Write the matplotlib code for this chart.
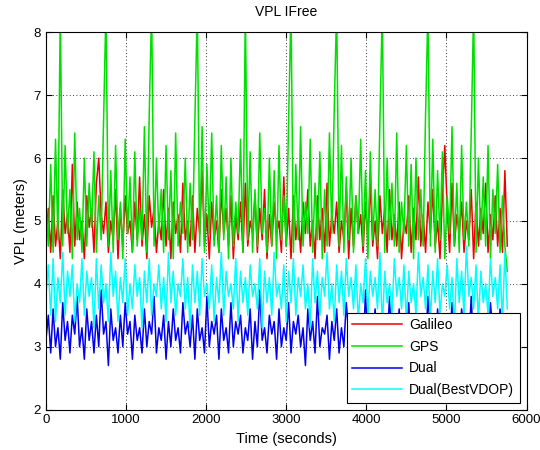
import numpy as np
import matplotlib
matplotlib.use('Agg')
import matplotlib.pyplot as plt

plt.rcParams['font.family'] = ['Liberation Sans', 'DejaVu Sans']

dt = 30  # seconds between samples

galileo = [
    4.7, 5.2, 4.5, 5.4, 4.6, 5.0, 4.4, 5.5, 4.8, 5.1, 4.5, 5.9, 4.6, 5.3, 4.7, 5.0,
    4.4, 5.4, 4.9, 5.2, 4.5, 5.6, 6.0, 5.1, 4.8, 5.3, 4.5, 5.0, 4.7, 5.5, 4.4, 5.2,
    4.6, 5.4, 4.8, 5.0, 4.5, 5.3, 4.7, 5.7, 4.6, 5.1, 4.4, 5.4, 4.9, 5.2, 4.5, 5.0,
    4.7, 5.5, 4.6, 5.2, 4.4, 5.3, 4.8, 5.1, 4.5, 5.6, 4.7, 5.0, 4.6, 5.4, 4.5, 5.2,
    4.8, 5.8, 4.6, 5.1, 4.4, 5.3, 4.7, 5.0, 4.5, 5.5, 4.8, 5.2, 4.6, 5.4, 4.4, 5.1,
    4.7, 5.3, 4.5, 5.6, 4.6, 5.0, 4.8, 5.4, 4.5, 5.2, 4.7, 5.5, 4.4, 5.1, 4.6, 5.3,
    4.8, 5.0, 4.5, 5.7, 4.6, 5.2, 4.4, 5.4, 4.7, 5.1, 4.5, 5.3, 4.8, 5.5, 4.6, 5.0,
    4.4, 5.4, 4.7, 5.2, 4.5, 5.6, 4.6, 5.1, 4.8, 5.3, 4.5, 5.0, 4.7, 5.5, 4.4, 5.2,
    4.6, 5.4, 4.8, 5.1, 4.5, 5.3, 4.7, 5.6, 4.6, 5.0, 4.4, 5.4, 4.8, 5.2, 4.5, 5.5,
    4.7, 5.1, 4.6, 5.3, 4.4, 5.0, 4.8, 5.4, 4.5, 5.2, 4.7, 5.7, 4.6, 5.1, 4.5, 5.3,
    4.8, 5.5, 4.6, 5.0, 4.4, 5.4, 6.2, 5.2, 4.5, 5.6, 4.6, 5.1, 4.8, 5.3, 4.5, 5.0,
    4.7, 5.5, 4.4, 5.3, 4.6, 5.2, 4.8, 5.6, 4.5, 5.1, 4.7, 5.4, 4.6, 5.2, 4.5, 5.8, 4.6,
]

gps = [
    5.3, 4.6, 5.9, 4.5, 6.3, 4.7, 8.4, 4.6, 6.2, 4.8, 5.5, 4.4, 6.4, 4.7, 5.2, 4.5,
    6.0, 4.6, 5.6, 4.9, 6.1, 4.5, 5.4, 4.7, 6.6, 8.4, 4.6, 5.8, 4.5, 6.2, 4.7, 5.3,
    4.4, 6.3, 4.8, 5.7, 4.5, 6.1, 4.6, 5.2, 4.7, 6.5, 4.5, 6.7, 8.4, 4.6, 6.0, 4.8,
    5.5, 4.5, 6.2, 4.7, 5.8, 4.4, 6.4, 4.6, 5.3, 4.8, 6.0, 4.5, 5.6, 4.7, 6.6, 8.4,
    4.6, 6.5, 4.5, 5.9, 4.8, 6.4, 4.6, 5.4, 4.5, 6.2, 4.7, 5.7, 4.4, 6.0, 4.6, 5.3,
    4.8, 6.3, 4.5, 8.4, 4.7, 6.1, 4.5, 5.5, 4.6, 6.4, 4.8, 5.2, 4.5, 6.0, 4.6, 5.8,
    4.4, 6.2, 4.7, 5.4, 4.6, 6.6, 8.4, 4.5, 5.9, 4.7, 6.5, 4.6, 5.3, 4.8, 6.3, 4.5,
    5.6, 4.7, 6.1, 4.4, 5.5, 4.6, 6.4, 4.8, 6.8, 8.4, 4.6, 6.2, 4.5, 5.7, 4.7, 6.0,
    4.5, 5.4, 4.8, 6.3, 4.6, 5.8, 4.4, 6.1, 4.7, 5.5, 4.6, 6.6, 8.4, 4.5, 6.0, 4.7,
    5.6, 4.6, 6.4, 4.5, 5.3, 4.8, 6.2, 4.6, 5.9, 4.4, 6.0, 4.7, 5.5, 4.6, 6.7, 8.4,
    4.6, 6.3, 4.5, 5.8, 4.7, 6.1, 4.4, 5.4, 4.8, 6.5, 4.6, 5.6, 4.5, 6.2, 4.7, 5.3,
    4.6, 6.4, 8.4, 4.5, 6.0, 4.7, 5.7, 4.6, 6.2, 4.4, 5.5, 4.8, 5.9, 4.5, 5.4, 4.6, 4.2,
]

dual = [
    3.1, 3.5, 2.9, 3.6, 3.0, 3.3, 2.8, 3.7, 3.1, 3.4, 2.9, 3.5, 3.2, 3.8, 3.0, 3.3,
    2.8, 3.6, 3.1, 3.4, 2.9, 3.5, 3.0, 3.9, 3.2, 3.4, 2.7, 3.6, 3.1, 3.3, 2.9, 3.5,
    3.0, 3.7, 3.2, 3.4, 2.8, 3.5, 3.1, 3.3, 2.9, 3.6, 3.0, 3.4, 3.2, 3.8, 2.9, 3.3,
    3.1, 3.5, 2.8, 3.4, 3.0, 3.6, 3.1, 3.3, 2.9, 3.7, 3.2, 3.4, 3.0, 3.5, 2.8, 3.6,
    3.1, 3.3, 2.9, 3.8, 3.0, 3.4, 3.2, 3.5, 2.8, 3.6, 3.1, 3.3, 2.9, 3.7, 3.0, 3.4,
    3.2, 3.5, 2.9, 3.3, 3.1, 3.6, 2.8, 3.4, 3.0, 3.9, 3.1, 3.3, 2.9, 3.5, 3.2, 3.4,
    2.8, 3.6, 3.0, 3.3, 3.1, 3.7, 2.9, 3.4, 3.2, 3.5, 3.0, 3.3, 2.7, 3.6, 3.1, 3.4,
    2.9, 3.8, 3.0, 3.3, 3.2, 3.5, 2.8, 3.4, 3.1, 3.6, 2.9, 3.3, 3.0, 3.7, 3.2, 3.4,
    2.9, 3.5, 3.1, 3.3, 2.8, 3.9, 3.0, 3.4, 3.2, 3.6, 2.9, 3.3, 3.1, 3.5, 3.0, 3.8,
    3.1, 3.4, 2.9, 3.6, 3.0, 3.3, 3.2, 3.7, 2.8, 3.4, 3.1, 3.5, 2.9, 3.3, 3.0, 3.8,
    3.2, 3.4, 2.9, 3.6, 3.1, 3.3, 2.8, 3.5, 3.0, 3.7, 3.1, 3.4, 2.9, 3.6, 3.2, 3.3,
    3.0, 3.8, 2.9, 3.4, 3.1, 3.5, 3.0, 3.3, 2.8, 3.7, 3.2, 3.4, 3.0, 3.6, 3.1, 3.5, 3.3,
]

dual_best = [
    3.8, 4.3, 3.5, 4.4, 3.4, 4.1, 3.7, 4.5, 3.5, 4.2, 3.8, 4.3, 3.4, 4.0, 3.7, 4.4,
    3.5, 4.2, 3.8, 4.1, 3.3, 4.4, 3.6, 4.3, 3.7, 4.0, 3.4, 4.5, 3.8, 4.2, 3.4, 4.1,
    3.7, 4.4, 3.5, 4.0, 3.6, 4.3, 3.8, 4.1, 3.3, 4.2, 3.7, 4.4, 3.5, 4.0, 3.8, 4.3,
    3.6, 4.1, 3.4, 4.5, 3.7, 4.2, 3.5, 4.0, 3.8, 4.4, 3.6, 4.1, 3.3, 4.3, 3.7, 4.2,
    3.5, 4.4, 3.8, 4.0, 3.6, 4.3, 3.4, 4.1, 3.7, 4.5, 3.5, 4.2, 3.8, 4.0, 3.6, 4.4,
    3.4, 4.2, 3.7, 4.1, 3.5, 4.3, 3.8, 4.0, 3.6, 4.4, 3.3, 4.2, 3.7, 4.1, 3.5, 4.5,
    3.8, 4.0, 3.6, 4.3, 3.4, 4.2, 3.7, 4.4, 3.5, 4.1, 3.8, 4.3, 3.6, 4.0, 3.3, 4.4,
    3.7, 4.2, 3.5, 4.1, 3.8, 4.5, 3.6, 4.0, 3.4, 4.3, 3.7, 4.2, 3.5, 4.4, 3.8, 4.1,
    3.6, 4.3, 3.4, 4.0, 3.7, 4.4, 3.5, 4.2, 3.8, 4.1, 3.6, 4.5, 3.3, 4.2, 3.7, 4.0,
    3.5, 4.4, 3.8, 4.1, 3.6, 4.3, 3.4, 4.2, 3.7, 4.0, 3.5, 4.5, 3.8, 4.1, 3.6, 4.3,
    3.4, 4.2, 3.7, 4.4, 3.5, 4.0, 3.8, 4.3, 3.6, 4.1, 3.3, 4.4, 3.7, 4.2, 3.5, 4.6,
    3.8, 4.1, 3.6, 4.3, 3.4, 4.2, 3.7, 4.0, 3.5, 4.4, 3.8, 4.1, 3.6, 4.3, 3.4, 4.5, 3.6,
]

t = np.arange(len(gps)) * dt

fig = plt.figure(figsize=(5.4, 4.5), dpi=100)
ax = fig.add_axes([0.085, 0.09, 0.89, 0.838])

ax.plot(t, galileo, color='#ee0000', lw=1.1, label='Galileo')
ax.plot(t, gps, color='#00e000', lw=1.1, label='GPS')
ax.plot(t, dual, color='#0000ee', lw=1.1, label='Dual')
ax.plot(t, dual_best, color='#00ffff', lw=1.1, label='Dual(BestVDOP)')

ax.set_xlim(0, 6000)
ax.set_ylim(2, 8)
ax.set_xticks(range(0, 6001, 1000))
ax.set_yticks(range(2, 9))
ax.grid(True, color='black', linestyle=(0, (1, 3)), linewidth=0.6)
ax.tick_params(direction='in', top=True, right=True, labelsize=9.5, length=4)
for s in ax.spines.values():
    s.set_linewidth(0.8)

ax.set_title('VPL IFree', fontsize=10, pad=12)
ax.set_xlabel('Time (seconds)', fontsize=10.5)
ax.set_ylabel('VPL (meters)', fontsize=10.5)

leg = ax.legend(loc='lower right', fontsize=10, fancybox=False, framealpha=1,
                edgecolor='black', handlelength=3.6, handletextpad=0.5,
                labelspacing=0.55, borderaxespad=0.5)
leg.get_frame().set_linewidth(0.8)

fig.savefig('out.png', dpi=100)
